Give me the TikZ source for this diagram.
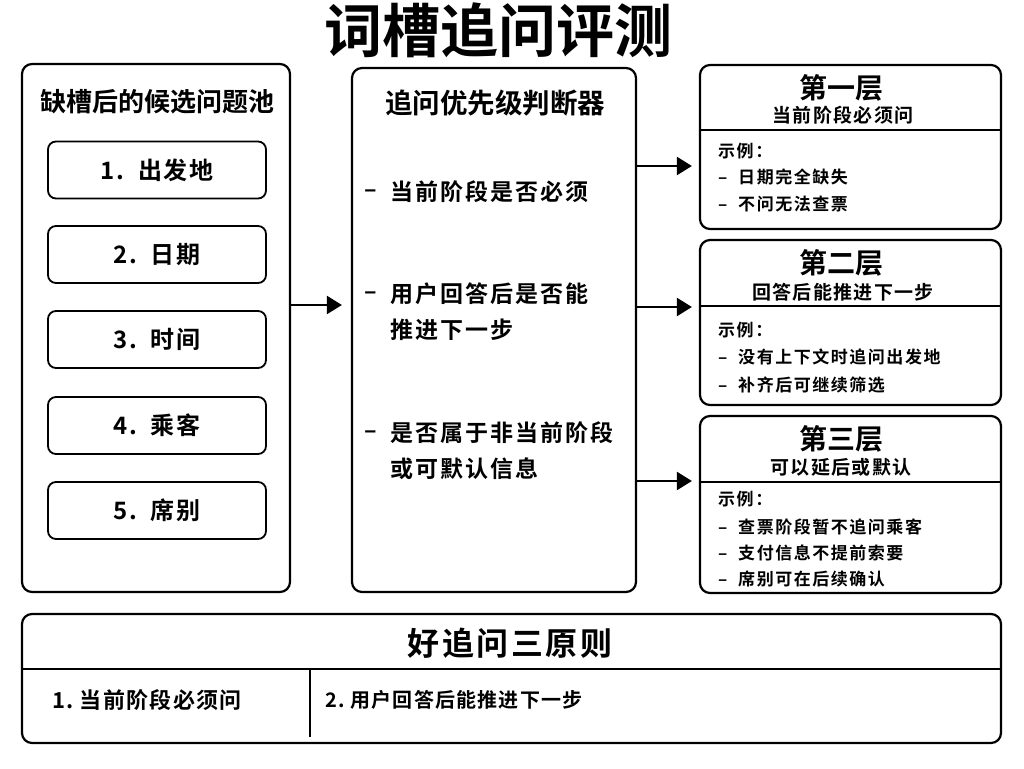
\documentclass[tikz,border=0pt]{standalone}
\usepackage{fontspec}
\setmainfont{Noto Sans CJK SC}[UprightFont=* Bold, BoldFont=* Bold]
\usetikzlibrary{arrows.meta}

\tikzset{
    panel/.style={draw, line width=2.2pt, rounded corners=10pt},
    slotbox/.style={draw, line width=1.8pt, rounded corners=8pt,
        minimum width=218pt, minimum height=57pt,
        font=\fontsize{24}{27}\selectfont\addfontfeature{LetterSpace=8}},
    label/.style={inner sep=0pt},
    flow/.style={line width=2.2pt, -{Triangle[length=15pt,width=18pt]}},
}

\begin{document}
\begin{tikzpicture}[x=1pt, y=-1pt]
    \useasboundingbox (0,0) rectangle (1024,768);

    % title
    \node[label, font=\fontsize{58}{64}\selectfont] (title) at (498,30) {词槽追问评测};

    % candidate pool
    \node[panel, minimum width=268pt, minimum height=528pt] (pool) at (156,328) {};
    \node[label, font=\fontsize{26}{30}\selectfont] (poolhead) at (157,102) {缺槽后的候选问题池};
    \node[slotbox] (s1) at (157,170) {1.\hspace{14pt}出发地\hspace{8pt}};
    \node[slotbox] (s2) at (157,254.5) {2.\hspace{14pt}日期\hspace{8pt}};
    \node[slotbox] (s3) at (157,339.5) {3.\hspace{14pt}时间\hspace{8pt}};
    \node[slotbox] (s4) at (157,425.5) {4.\hspace{14pt}乘客\hspace{8pt}};
    \node[slotbox] (s5) at (157,510.5) {5.\hspace{14pt}席别\hspace{8pt}};

    % priority judge
    \node[panel, minimum width=284pt, minimum height=524pt] (judge) at (494,330) {};
    \node[label, font=\fontsize{27.5}{31}\selectfont] (judgehead) at (495,103) {追问优先级判断器};
    \begin{scope}[every node/.style={label, anchor=west,
            font=\fontsize{23}{36}\selectfont\addfontfeature{LetterSpace=9}}]
        \node (d1) at (364,194) {–};
        \node (c1) at (390,192) {当前阶段是否必须};
        \node (d2) at (364,296) {–};
        \node[anchor=north west, align=left] (c2) at (390,282.5) {用户回答后是否能\\推进下一步};
        \node (d3) at (364,435) {–};
        \node[anchor=north west, align=left] (c3) at (390,421.5) {是否属于非当前阶段\\或可默认信息};
    \end{scope}

    % tiers
    \node[panel, minimum width=301pt, minimum height=164pt] (t1) at (850.5,147) {};
    \node[panel, minimum width=301pt, minimum height=165pt] (t2) at (850.5,322.5) {};
    \node[panel, minimum width=301pt, minimum height=177pt] (t3) at (850.5,504.5) {};
    \draw[line width=2pt] (t1.west |- 0,130) -- (t1.east |- 0,130);
    \draw[line width=2pt] (t2.west |- 0,306) -- (t2.east |- 0,306);
    \draw[line width=2pt] (t3.west |- 0,482) -- (t3.east |- 0,482);

    \begin{scope}[every node/.style={label, font=\fontsize{28}{32}\selectfont}]
        \node (t1head) at (841,88) {第一层};
        \node (t2head) at (841,263) {第二层};
        \node (t3head) at (841,439) {第三层};
    \end{scope}
    \begin{scope}[every node/.style={label, font=\fontsize{19}{22}\selectfont\addfontfeature{LetterSpace=7}}]
        \node (t1sub) at (843,115) {当前阶段必须问};
        \node (t2sub) at (843,292) {回答后能推进下一步};
        \node (t3sub) at (841,467) {可以延后或默认};
    \end{scope}
    \begin{scope}[every node/.style={label, anchor=west,
            font=\fontsize{17}{20}\selectfont\addfontfeature{LetterSpace=9}}]
        \node (e1) at (718,151) {示例：};
        \node (e1a) at (718,177) {–\ \ 日期完全缺失};
        \node (e1b) at (718,204) {–\ \ 不问无法查票};
        \node (e2) at (718,330) {示例：};
        \node (e2a) at (718,357) {–\ \ 没有上下文时追问出发地};
        \node (e2b) at (718,385) {–\ \ 补齐后可继续筛选};
        \node (e3) at (718,499) {示例：};
        \node (e3a) at (718,527) {–\ \ 查票阶段暂不追问乘客};
        \node (e3b) at (718,553) {–\ \ 支付信息不提前索要};
        \node (e3c) at (718,579) {–\ \ 席别可在后续确认};
    \end{scope}

    % arrows
    \draw[flow] (pool.east |- 0,305) -- ([xshift=-9pt]judge.west |- 0,305);
    \draw[flow] (judge.east |- 0,166) -- ([xshift=-7pt]t1.west |- 0,166);
    \draw[flow] (judge.east |- 0,307) -- ([xshift=-7pt]t2.west |- 0,307);
    \draw[flow] (judge.east |- 0,481) -- ([xshift=-7pt]t3.west |- 0,481);

    % principles
    \node[panel, minimum width=979pt, minimum height=129pt] (rules) at (511.5,678.5) {};
    \draw[line width=2pt] (rules.west |- 0,669) -- (rules.east |- 0,669);
    \coordinate (colbot) at (310,737);
    \draw[line width=1.8pt] (colbot |- 0,669) -- (colbot);
    \node[label, font=\fontsize{32}{36}\selectfont\addfontfeature{LetterSpace=8}] (ruleshead) at (510,643) {好追问三原则};
    \node[label, anchor=west, font=\fontsize{22}{25}\selectfont\addfontfeature{LetterSpace=6}] (r1) at (52,700) {1.\ 当前阶段必须问};
    \node[label, anchor=west, font=\fontsize{20}{23}\selectfont\addfontfeature{LetterSpace=6}] (r2) at (325,700) {2.\ 用户回答后能推进下一步};
\end{tikzpicture}
\end{document}
